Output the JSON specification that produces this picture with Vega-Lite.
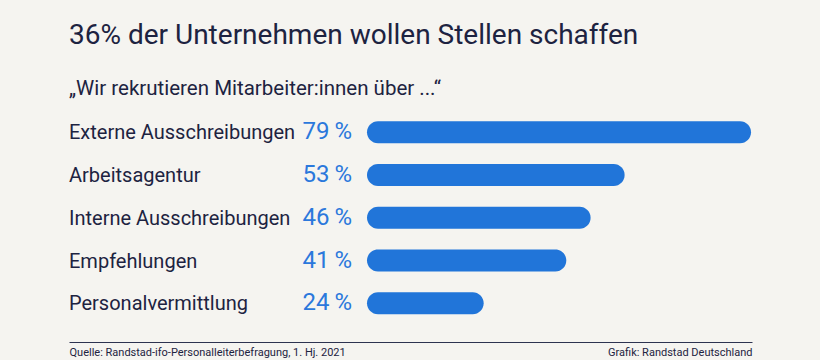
{
  "$schema": "https://vega.github.io/schema/vega-lite/v6.json",
  "width": 683,
  "height": 248.5,
  "autosize": {"type": "none"},
  "padding": {"left": 69, "top": 93.5, "right": 68, "bottom": 18},
  "background": "#f5f4f0",
  "config": {"view": {"stroke": null}, "font": "Roboto"},
  "title": {
    "text": "36% der Unternehmen wollen Stellen schaffen",
    "subtitle": "„Wir rekrutieren Mitarbeiter:innen über ...“",
    "anchor": "start",
    "frame": "group",
    "font": "Roboto",
    "fontSize": 28,
    "fontWeight": 400,
    "color": "#1d2341",
    "subtitleFont": "Roboto",
    "subtitleFontSize": 20.5,
    "subtitleColor": "#1d2341",
    "subtitlePadding": 29,
    "offset": -5.5
  },
  "data": {
    "values": [
      {"label": "Externe Ausschreibungen", "value": 79},
      {"label": "Arbeitsagentur", "value": 53},
      {"label": "Interne Ausschreibungen", "value": 46},
      {"label": "Empfehlungen", "value": 41},
      {"label": "Personalvermittlung", "value": 24}
    ]
  },
  "encoding": {
    "y": {
      "field": "label",
      "type": "nominal",
      "sort": null,
      "scale": {"paddingInner": 0, "paddingOuter": 0.405},
      "axis": null
    }
  },
  "layer": [
    {
      "mark": {"type": "bar", "height": 22, "cornerRadius": 11, "color": "#2175d9"},
      "encoding": {
        "x": {
          "field": "value",
          "type": "quantitative",
          "scale": {"domain": [-61.3, 79.2], "nice": false, "zero": false},
          "axis": {
            "values": [-61.3, 79.2],
            "labelFlush": true,
            "labelLimit": 0,
            "labelExpr": "datum.value < 0 ? 'Quelle: Randstad-ifo-Personalleiterbefragung, 1. Hj. 2021' : 'Grafik: Randstad Deutschland'",
            "ticks": false,
            "grid": false,
            "domainColor": "#2d3350",
            "domainWidth": 1,
            "labelColor": "#1d2341",
            "labelFont": "Roboto",
            "labelFontSize": 11,
            "labelPadding": 4,
            "title": null
          }
        },
        "x2": {"datum": 0}
      }
    },
    {
      "mark": {"type": "text", "align": "left", "baseline": "middle", "fontSize": 20, "dy": 1, "color": "#1d2341"},
      "encoding": {
        "x": {"datum": -61.3},
        "text": {"field": "label"}
      }
    },
    {
      "mark": {"type": "text", "align": "right", "baseline": "middle", "fontSize": 24, "dx": -15, "color": "#2b78dc", "text": {"expr": "datum.value + '\u2009%'"}},
      "encoding": {
        "x": {"datum": 0}
      }
    }
  ]
}
